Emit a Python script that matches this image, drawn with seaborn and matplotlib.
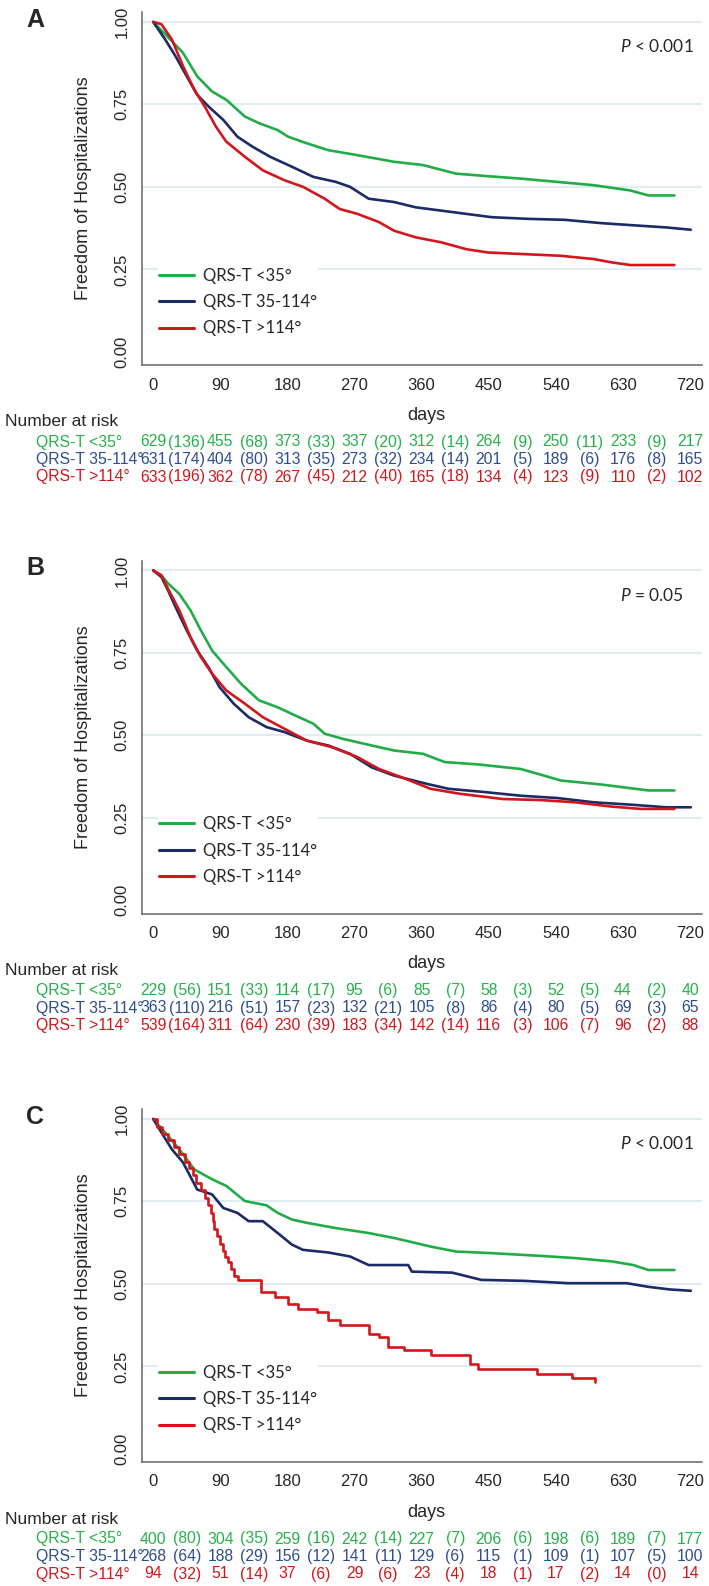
"""
Kaplan-Meier style panels: freedom of hospitalizations by QRS-T angle group
(A, B, C), each with a number-at-risk table underneath.
"""
import numpy as np
import pandas as pd
import matplotlib
matplotlib.use("Agg")
import matplotlib.pyplot as plt
import matplotlib.transforms as mtransforms
import seaborn as sns

# ------------------------------------------------------------------
# 1. Data (days, survival)
# ------------------------------------------------------------------
groups = ["QRS-T <35°", "QRS-T 35-114°", "QRS-T >114°"]
line_colors = ["#22ac48", "#1b2b66", "#d2161c"]
text_colors = ["#26b04b", "#2e4d8e", "#d2161c"]

# panel A
a_lt35_days = [0, 25, 40, 59, 79, 98, 123, 142, 167, 181, 206, 235, 274, 323, 362, 406, 445, 493, 542, 591, 640, 664, 699]
a_lt35_surv = [1.0, 0.942, 0.906, 0.835, 0.789, 0.764, 0.713, 0.693, 0.672, 0.652, 0.632, 0.611, 0.596, 0.576, 0.566, 0.540, 0.533, 0.525, 0.515, 0.505, 0.489, 0.474, 0.474]
a_mid_days = [0, 16, 30, 45, 59, 74, 94, 113, 133, 157, 186, 215, 245, 264, 289, 323, 352, 386, 420, 454, 503, 552, 601, 654, 688, 721]
a_mid_surv = [1.0, 0.947, 0.896, 0.835, 0.779, 0.744, 0.703, 0.652, 0.622, 0.591, 0.561, 0.530, 0.515, 0.500, 0.464, 0.454, 0.438, 0.428, 0.418, 0.408, 0.403, 0.400, 0.390, 0.382, 0.377, 0.370]
a_gt114_days = [0, 11, 25, 40, 55, 69, 84, 98, 123, 147, 176, 201, 230, 250, 274, 303, 323, 352, 386, 420, 449, 498, 547, 591, 615, 640, 699]
a_gt114_surv = [1.0, 0.993, 0.947, 0.866, 0.795, 0.744, 0.683, 0.637, 0.591, 0.550, 0.520, 0.500, 0.464, 0.433, 0.418, 0.393, 0.367, 0.347, 0.332, 0.311, 0.301, 0.296, 0.291, 0.281, 0.271, 0.263, 0.263]

# panel B
b_lt35_days = [0, 11, 20, 35, 50, 64, 79, 98, 118, 142, 167, 186, 215, 230, 255, 284, 323, 362, 391, 435, 493, 547, 601, 664, 699]
b_lt35_surv = [1.0, 0.985, 0.960, 0.929, 0.879, 0.818, 0.757, 0.707, 0.656, 0.606, 0.585, 0.565, 0.535, 0.505, 0.489, 0.474, 0.454, 0.444, 0.419, 0.412, 0.398, 0.363, 0.351, 0.333, 0.333]
b_mid_days = [0, 11, 20, 30, 45, 59, 74, 89, 108, 128, 152, 176, 206, 235, 264, 293, 323, 367, 396, 445, 493, 542, 591, 640, 688, 721]
b_mid_surv = [1.0, 0.980, 0.939, 0.889, 0.818, 0.757, 0.707, 0.646, 0.596, 0.555, 0.525, 0.510, 0.484, 0.469, 0.444, 0.403, 0.378, 0.353, 0.338, 0.328, 0.317, 0.310, 0.297, 0.290, 0.282, 0.282]
b_gt114_days = [0, 11, 20, 35, 50, 64, 79, 98, 123, 147, 176, 206, 240, 274, 303, 333, 372, 411, 469, 518, 566, 615, 654, 699]
b_gt114_surv = [1.0, 0.985, 0.944, 0.879, 0.798, 0.737, 0.687, 0.636, 0.596, 0.555, 0.520, 0.484, 0.464, 0.434, 0.398, 0.373, 0.338, 0.323, 0.307, 0.304, 0.297, 0.284, 0.277, 0.277]

# panel C
c_lt35_days = [0, 16, 35, 55, 79, 98, 123, 152, 167, 186, 206, 245, 289, 323, 342, 372, 406, 454, 518, 566, 615, 644, 664, 699]
c_lt35_surv = [1.0, 0.959, 0.908, 0.847, 0.817, 0.797, 0.751, 0.738, 0.715, 0.695, 0.685, 0.669, 0.654, 0.639, 0.629, 0.613, 0.598, 0.593, 0.585, 0.578, 0.568, 0.557, 0.542, 0.542]
c_mid_days = [0, 11, 25, 40, 59, 79, 94, 113, 128, 147, 167, 186, 201, 235, 264, 289, 342, 347, 401, 440, 498, 557, 635, 664, 693, 721]
c_mid_surv = [1.0, 0.959, 0.908, 0.868, 0.786, 0.771, 0.730, 0.715, 0.690, 0.690, 0.654, 0.619, 0.603, 0.595, 0.583, 0.557, 0.557, 0.537, 0.534, 0.512, 0.509, 0.502, 0.502, 0.491, 0.483, 0.479]
c_gt114_days = [0, 5, 12, 20, 28, 35, 42, 48, 53, 58, 64, 70, 74, 78, 80, 82, 86, 90, 93, 96, 100, 104, 108, 114, 145, 164, 181, 194, 220, 235, 250, 289, 303, 315, 337, 372, 425, 435, 515, 562, 593]
c_gt114_surv = [1.0, 0.975, 0.955, 0.935, 0.915, 0.895, 0.870, 0.850, 0.830, 0.805, 0.785, 0.760, 0.740, 0.715, 0.690, 0.665, 0.645, 0.620, 0.600, 0.582, 0.565, 0.545, 0.525, 0.512, 0.476, 0.461, 0.438, 0.425, 0.415, 0.390, 0.374, 0.349, 0.339, 0.308, 0.300, 0.283, 0.257, 0.242, 0.227, 0.215, 0.201]

# number at risk (days 0..720 every 90) and counts in brackets in between
risk_days = [0, 90, 180, 270, 360, 450, 540, 630, 720]
a_risk = [[629, 455, 373, 337, 312, 264, 250, 233, 217],
          [631, 404, 313, 273, 234, 201, 189, 176, 165],
          [633, 362, 267, 212, 165, 134, 123, 110, 102]]
a_events = [[136, 68, 33, 20, 14, 9, 11, 9],
            [174, 80, 35, 32, 14, 5, 6, 8],
            [196, 78, 45, 40, 18, 4, 9, 2]]
b_risk = [[229, 151, 114, 95, 85, 58, 52, 44, 40],
          [363, 216, 157, 132, 105, 86, 80, 69, 65],
          [539, 311, 230, 183, 142, 116, 106, 96, 88]]
b_events = [[56, 33, 17, 6, 7, 3, 5, 2],
            [110, 51, 23, 21, 8, 4, 5, 3],
            [164, 64, 39, 34, 14, 3, 7, 2]]
c_risk = [[400, 304, 259, 242, 227, 206, 198, 189, 177],
          [268, 188, 156, 141, 129, 115, 109, 107, 100],
          [94, 51, 37, 29, 23, 18, 17, 14, 14]]
c_events = [[80, 35, 16, 14, 7, 6, 6, 7],
            [64, 29, 12, 11, 6, 1, 1, 5],
            [32, 14, 6, 6, 4, 1, 2, 0]]

p_labels = ["$P$ < 0.001", "$P$ = 0.05", "$P$ < 0.001"]
letters = ["A", "B", "C"]

# ------------------------------------------------------------------
# 2. Figure
# ------------------------------------------------------------------
sns.set_theme(style="white")
plt.rcParams["font.family"] = ["Liberation Sans", "DejaVu Sans"]
plt.rcParams["mathtext.fontset"] = "custom"
plt.rcParams["mathtext.it"] = "Lato:italic"
plt.rcParams["mathtext.rm"] = "Lato"

W, H = 709, 1586
fig = plt.figure(figsize=(W / 100, H / 100), dpi=100)

panels = [
    ([(a_lt35_days, a_lt35_surv), (a_mid_days, a_mid_surv), (a_gt114_days, a_gt114_surv)], a_risk, a_events),
    ([(b_lt35_days, b_lt35_surv), (b_mid_days, b_mid_surv), (b_gt114_days, b_gt114_surv)], b_risk, b_events),
    ([(c_lt35_days, c_lt35_surv), (c_mid_days, c_mid_surv), (c_gt114_days, c_gt114_surv)], c_risk, c_events),
]
offset = 548.5  # vertical pixel offset between panels
grid_col = "#dcebf0"
spine_col = "#666666"

for i, (curves, risk, events) in enumerate(panels):
    top_px = 12 + i * offset
    bot_px = 365 + i * offset
    ax = fig.add_axes([142 / W, 1 - bot_px / H, 560 / W, (bot_px - top_px) / H])

    for v in [0.25, 0.5, 0.75, 1.0]:
        ax.axhline(v, color=grid_col, lw=1.3, zorder=0)

    for g, (days, surv) in enumerate(curves):
        style = "steps-post" if (i == 2 and g == 2) else "default"
        df = pd.DataFrame({"day": days, "surv": surv})
        sns.lineplot(data=df, x="day", y="surv", color=line_colors[g], lw=1.9,
                     drawstyle=style, estimator=None, sort=False,
                     label=groups[g], ax=ax, zorder=3)

    ax.set_xlim(-15, 736)
    ax.set_ylim(-0.04, 1.03)
    ax.set_xticks(risk_days)
    ax.set_xticklabels([str(d) for d in risk_days], fontsize=12)
    ax.set_yticks([0, 0.25, 0.5, 0.75, 1.0])
    ax.set_yticklabels(["0.00", "0.25", "0.50", "0.75", "1.00"], fontsize=12,
                       rotation=90, va="center")
    ax.tick_params(direction="out", length=5, width=1, color=spine_col, pad=4)
    for s in ["top", "right"]:
        ax.spines[s].set_visible(False)
    for s in ["left", "bottom"]:
        ax.spines[s].set_color(spine_col)
        ax.spines[s].set_linewidth(1.1)

    ax.set_ylabel("Freedom of Hospitalizations", fontsize=13)
    ax.yaxis.set_label_coords(-0.089, 0.5)
    ax.set_xlabel("days", fontsize=13)
    ax.xaxis.set_label_coords(0.507, -0.118)

    leg = ax.legend(loc="center left", bbox_to_anchor=(0.028, 0.178), frameon=True,
                    facecolor="white", edgecolor="none", framealpha=1,
                    borderpad=0.1, borderaxespad=0, handlelength=2.1,
                    handletextpad=0.5, labelspacing=0.62,
                    prop={"family": "Lato", "size": 12})
    for line in leg.get_lines():
        line.set_linewidth(2.2)

    ax.text(626, 0.925, p_labels[i], fontsize=12.5, family="Lato", ha="left", va="center")
    fig.text(35 / W, 1 - (20 + i * offset) / H, letters[i], fontsize=18,
             weight="bold", ha="center", va="center")

    # number at risk table
    h_px = bot_px - top_px
    trans_fig = mtransforms.blended_transform_factory(fig.transFigure, ax.transAxes)
    trans_dat = mtransforms.blended_transform_factory(ax.transData, ax.transAxes)
    ax.text(5 / W, -(422 - 365) / h_px, "Number at risk", fontsize=12.5,
            transform=trans_fig, ha="left", va="center")
    for g in range(3):
        y = -((442 + g * 17.5) - 365) / h_px
        ax.text(36 / W, y, groups[g], fontsize=11.3, color=text_colors[g],
                transform=trans_fig, ha="left", va="center")
        for d, n in zip(risk_days, risk[g]):
            ax.text(d, y, str(n), fontsize=11.3, color=text_colors[g],
                    transform=trans_dat, ha="center", va="center")
        for d, e in zip(risk_days[:-1], events[g]):
            ax.text(d + 45, y, f"({e})", fontsize=11.3, color=text_colors[g],
                    transform=trans_dat, ha="center", va="center")

fig.savefig("out.png", dpi=100)
